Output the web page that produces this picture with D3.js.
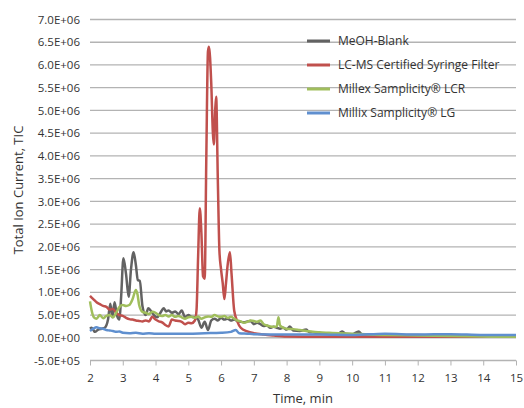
<!DOCTYPE html>
<html>
<head>
<meta charset="utf-8">
<script src="https://cdn.jsdelivr.net/npm/d3@7"></script>
<style>
  body { margin: 0; background: #fff; }
  svg text { font-family: "Open Sans", sans-serif; fill: #333; }
</style>
</head>
<body>
<div id="chart"></div>
<script>
// Constants
const width = 524;
const height = 408;
const plotLeft = 90, plotRight = 516, plotTop = 19.5, plotBottom = 360.5;

// Data (time in min, TIC in units of 1E+06)
const seriesNames = ["MeOH-Blank", "LC-MS Certified Syringe Filter", "Millex Samplicity® LCR", "Millix Samplicity® LG"];
const seriesColors = ["#626262", "#c0504d", "#a0be5c", "#5f8fcf"];

const blankTime = [2.0,2.05,2.15,2.25,2.35,2.45,2.55,2.62,2.68,2.75,2.82,2.9,2.95,3.02,3.1,3.18,3.25,3.33,3.4,3.46,3.52,3.6,3.7,3.78,3.85,3.95,4.05,4.15,4.25,4.32,4.4,4.5,4.6,4.7,4.8,4.9,5.0,5.1,5.2,5.3,5.4,5.5,5.6,5.7,5.8,5.9,6.0,6.1,6.2,6.3,6.4,6.5,6.6,6.7,6.8,6.9,7.0,7.1,7.2,7.3,7.4,7.5,7.6,7.7,7.8,7.9,8.0,8.1,8.2,8.4,8.6,8.7,8.8,9.0,9.2,9.4,9.6,9.7,9.8,10.0,10.2,10.3,10.6,11,12,13,14,15];
const blankTic = [0.2,0.22,0.13,0.18,0.2,0.22,0.4,0.75,0.45,0.78,0.5,0.4,0.9,1.75,1.4,0.9,1.5,1.88,1.6,1.27,1.25,0.7,0.5,0.65,0.6,0.5,0.45,0.55,0.65,0.58,0.6,0.55,0.58,0.52,0.6,0.45,0.5,0.46,0.45,0.4,0.22,0.35,0.17,0.38,0.42,0.38,0.44,0.4,0.42,0.38,0.4,0.37,0.35,0.34,0.36,0.37,0.3,0.33,0.3,0.26,0.27,0.22,0.24,0.22,0.2,0.22,0.18,0.25,0.16,0.15,0.18,0.12,0.12,0.1,0.1,0.09,0.1,0.14,0.09,0.08,0.14,0.07,0.07,0.06,0.06,0.05,0.05,0.05];

const lcmsTime = [2.0,2.1,2.2,2.3,2.4,2.5,2.6,2.7,2.8,2.9,3.0,3.1,3.2,3.3,3.4,3.5,3.6,3.7,3.8,3.9,4.0,4.1,4.2,4.3,4.4,4.5,4.6,4.7,4.8,4.9,5.0,5.1,5.2,5.25,5.3,5.35,5.4,5.45,5.5,5.55,5.6,5.63,5.7,5.75,5.78,5.82,5.85,5.9,5.95,6.0,6.05,6.1,6.15,6.2,6.27,6.32,6.4,6.5,6.6,6.8,7.0,7.3,7.6,8.0,9.0,10,11,12,13,14,14.4,14.5,15];
const lcmsTic = [0.92,0.85,0.78,0.74,0.7,0.68,0.62,0.63,0.55,0.5,0.48,0.44,0.41,0.4,0.38,0.37,0.36,0.38,0.36,0.46,0.4,0.36,0.34,0.28,0.25,0.4,0.38,0.37,0.35,0.3,0.33,0.32,0.38,0.6,1.8,2.85,2.3,1.35,1.3,4.0,6.3,6.4,5.6,4.5,4.25,5.0,5.3,3.5,1.9,1.5,1.2,0.85,1.2,1.6,1.88,1.4,0.6,0.35,0.22,0.14,0.1,0.07,0.05,0.03,0.02,0.02,0.02,0.02,0.02,0.03,0.05,0.03,0.03];

const lcrTime = [2.0,2.05,2.12,2.2,2.3,2.4,2.5,2.6,2.7,2.8,2.9,3.0,3.1,3.2,3.3,3.4,3.45,3.5,3.6,3.7,3.8,3.9,4.0,4.1,4.2,4.3,4.4,4.5,4.6,4.7,4.8,4.9,5.0,5.1,5.2,5.3,5.4,5.5,5.6,5.7,5.8,5.9,6.0,6.1,6.2,6.3,6.4,6.5,6.6,6.7,6.8,6.9,7.0,7.1,7.2,7.3,7.4,7.5,7.6,7.7,7.75,7.8,7.9,8.0,8.2,8.4,8.6,8.8,9.0,9.3,9.6,10,10.5,11,12,13,14,15];
const lcrTic = [0.8,0.6,0.45,0.42,0.5,0.43,0.48,0.5,0.45,0.55,0.68,0.72,0.7,0.72,0.85,1.05,0.95,0.72,0.57,0.55,0.52,0.57,0.55,0.5,0.48,0.5,0.47,0.5,0.46,0.48,0.45,0.42,0.45,0.46,0.44,0.47,0.42,0.45,0.47,0.46,0.5,0.47,0.46,0.48,0.44,0.46,0.42,0.38,0.36,0.33,0.35,0.38,0.37,0.35,0.38,0.3,0.27,0.25,0.24,0.25,0.45,0.27,0.22,0.2,0.19,0.17,0.15,0.13,0.12,0.11,0.1,0.09,0.07,0.06,0.05,0.04,0.03,0.02];

const lgTime = [2.0,2.1,2.2,2.3,2.4,2.5,2.6,2.7,2.8,2.9,3.0,3.2,3.4,3.6,3.8,4.0,4.5,5.0,5.5,6.0,6.3,6.45,6.55,6.8,7.0,8,9,10,11,12,13,14,15];
const lgTic = [0.15,0.2,0.23,0.21,0.2,0.17,0.16,0.15,0.13,0.14,0.11,0.1,0.11,0.09,0.1,0.09,0.09,0.09,0.1,0.11,0.13,0.17,0.1,0.09,0.08,0.07,0.07,0.06,0.09,0.07,0.08,0.06,0.06];

const xTicks = d3.range(2, 16);
const yTicks = d3.range(-0.5, 7.01, 0.5);

const series = [
  { name: seriesNames[0], color: seriesColors[0], values: blankTime.map((t, i) => ({ t: t, v: blankTic[i] })) },
  { name: seriesNames[1], color: seriesColors[1], values: lcmsTime.map((t, i) => ({ t: t, v: lcmsTic[i] })) },
  { name: seriesNames[2], color: seriesColors[2], values: lcrTime.map((t, i) => ({ t: t, v: lcrTic[i] })) },
  { name: seriesNames[3], color: seriesColors[3], values: lgTime.map((t, i) => ({ t: t, v: lgTic[i] })) }
];

const svg = d3.select("#chart").append("svg")
  .attr("width", width)
  .attr("height", height);

//-----------------------------SCALES-----------------------------//
const xScale = d3.scaleLinear().domain([2, 15]).range([plotLeft, plotRight]);
const yScale = d3.scaleLinear().domain([-0.5, 7]).range([plotBottom, plotTop]);

//-----------------------------GRID-----------------------------//
svg.append("g")
  .selectAll("line")
  .data(yTicks.slice(1))
  .enter()
  .append("line")
  .attr("x1", plotLeft)
  .attr("x2", plotRight)
  .attr("y1", d => yScale(d))
  .attr("y2", d => yScale(d))
  .style("stroke", "#b3b3b3")
  .style("stroke-width", 1.3);

//-----------------------------AXES-----------------------------//
const fmt = d => {
  const val = d * 1e6;
  if (Math.abs(val) < 1) return "0.0E+00";
  const e = Math.floor(Math.log10(Math.abs(val)) + 1e-9);
  const m = (val / Math.pow(10, e)).toFixed(1);
  return m + "E+" + String(e).padStart(2, "0");
};

const yaxis = d3.axisLeft(yScale).tickValues(yTicks).tickSize(0).tickPadding(10).tickFormat(fmt);
const gy = svg.append("g").attr("transform", `translate(${plotLeft},0)`).call(yaxis);
gy.select(".domain").remove();
gy.selectAll("text").style("font-size", "11.5px");

const xaxis = d3.axisBottom(xScale).tickValues(xTicks).tickSize(5).tickPadding(8).tickFormat(d3.format("d"));
const gx = svg.append("g").attr("transform", `translate(0,${plotBottom})`).call(xaxis);
gx.select(".domain").attr("d", `M${plotLeft},0H${plotRight}`).style("stroke", "#b3b3b3").style("stroke-width", 1.3);
gx.selectAll(".tick line").style("stroke", "#b3b3b3");
gx.selectAll("text").style("font-size", "11.5px");

//-----------------------------LINES----------------------------//
const line = d3.line()
  .x(d => xScale(d.t))
  .y(d => yScale(d.v))
  .curve(d3.curveMonotoneX);

svg.append("g")
  .selectAll("path")
  .data(series)
  .enter()
  .append("path")
  .attr("d", d => line(d.values))
  .style("fill", "none")
  .style("stroke", d => d.color)
  .style("stroke-width", 2.5)
  .style("stroke-linejoin", "round");

//---------------------------LEGEND-----------------------------//
const legend = svg.append("g").selectAll("g")
  .data(series)
  .enter()
  .append("g")
  .attr("transform", (d, i) => `translate(307,${41 + i * 24})`);

legend.append("line")
  .attr("x1", 0).attr("x2", 23)
  .style("stroke", d => d.color)
  .style("stroke-width", 3);

legend.append("text")
  .attr("x", 31)
  .attr("dy", "0.35em")
  .style("font-size", "12px")
  .text(d => d.name);

//---------------------------TITLES-----------------------------//
svg.append("text")
  .attr("transform", "rotate(-90)")
  .attr("x", -190)
  .attr("y", 23)
  .style("text-anchor", "middle")
  .style("font-size", "13px")
  .text("Total Ion Current, TIC");

svg.append("text")
  .attr("x", 303)
  .attr("y", 403)
  .style("text-anchor", "middle")
  .style("font-size", "13px")
  .text("Time, min");
</script>
</body>
</html>
